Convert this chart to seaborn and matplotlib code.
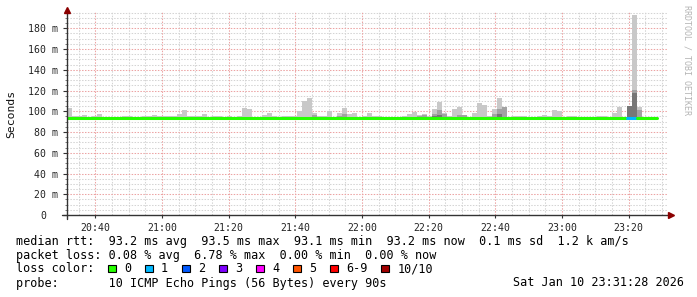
import numpy as np
import pandas as pd
import matplotlib
matplotlib.use("Agg")
import matplotlib.pyplot as plt
import matplotlib.transforms as mtransforms
from matplotlib.patches import Rectangle
import seaborn as sns

# ---------------- data ----------------
start_label = "20:31:28"
step_minutes = 1.5
# smoke: max ping (light), mid band, dense band (ms) per 90 s bin
smoke_max = [103.2, 95.0, 95.5, 96.4, 93.6, 95.5, 97.4, 93.6, 93.6, 93.6,
             93.6, 95.0, 95.0, 93.6, 93.6, 95.0, 95.0, 96.4, 95.0, 95.0,
             95.5, 95.0, 97.4, 101.3, 95.0, 95.8, 95.8, 97.2, 93.6, 95.0,
             95.5, 94.5, 95.0, 94.5, 95.5, 103.2, 102.2, 93.6, 93.6, 96.4,
             98.4, 95.0, 93.6, 95.0, 95.0, 95.5, 100.3, 109.9, 112.8, 98.4,
             95.0, 95.5, 100.3, 93.6, 98.4, 103.2, 97.4, 98.4, 93.6, 95.5,
             98.4, 95.5, 95.5, 93.6, 93.6, 93.6, 93.6, 95.5, 97.4, 99.3,
             96.4, 97.0, 95.5, 102.2, 109.0, 98.4, 95.5, 102.2, 104.1, 96.4,
             93.6, 98.4, 108.0, 106.1, 95.0, 102.2, 112.8, 104.1, 93.6, 95.0,
             95.0, 95.0, 93.6, 93.6, 95.5, 96.4, 95.5, 101.3, 100.3, 93.6,
             95.5, 95.5, 93.6, 93.6, 93.6, 93.6, 95.0, 95.0, 93.6, 98.4,
             104.1, 93.6, 105.1, 192.9, 104.1, 93.6, 93.6, 93.6]
smoke_mid = {49: 96.5, 54: 95.5, 55: 97.4, 70: 95.0, 71: 96.4, 73: 97.4,
             74: 101.3, 75: 97.4, 78: 96.4, 79: 96.4, 85: 97.4, 86: 102.2,
             87: 104.1, 89: 94.5, 112: 105.1, 113: 120.5, 114: 101.0}
smoke_dense = {73: 95.5, 74: 96.0, 86: 97.0, 112: 105.1, 113: 117.9}
smoke_min = 93.0
median_rtt = [93.2] * 118
loss_count = [0] * 118
loss_count[112] = 1
loss_count[113] = 1

xtick_labels = ["20:40", "21:00", "21:20", "21:40", "22:00", "22:20",
                "22:40", "23:00", "23:20"]
ytick_values = [0, 20, 40, 60, 80, 100, 120, 140, 160, 180]
ytick_labels = ["0", "20 m", "40 m", "60 m", "80 m", "100 m", "120 m",
                "140 m", "160 m", "180 m"]

loss_labels = ["0", "1", "2", "3", "4", "5", "6-9", "10/10"]
loss_colors = ["#26ff00", "#00b8ff", "#0059ff", "#7e00ff", "#ff00ff",
               "#ff5500", "#ff0000", "#a10000"]

legend_rows = [
    "median rtt:  93.2 ms avg  93.5 ms max  93.1 ms min  93.2 ms now  0.1 ms sd  1.2 k am/s",
    "packet loss: 0.08 % avg  6.78 % max  0.00 % min  0.00 % now",
    "loss color:",
    "probe:       10 ICMP Echo Pings (56 Bytes) every 90s",
]
date_text = "Sat Jan 10 23:31:28 2026"
watermark = "RRDTOOL / TOBI OETIKER"

# ---------------- setup ----------------
sns.set_theme(style="white")
plt.rcParams["font.family"] = ["DejaVu Sans Mono", "DejaVu Sans"]

W, H = 697, 297
fig = plt.figure(figsize=(W / 100, H / 100), dpi=100)
fig.patch.set_facecolor("white")
L, R, T, B = 67, 667, 12, 215
ax = fig.add_axes([L / W, 1 - B / H, (R - L) / W, (B - T) / H])
ax.set_facecolor("white")

h, m, s = [int(v) for v in start_label.split(":")]
t0 = (h - 20) * 60 + m + s / 60.0
n = len(smoke_max)
edges = t0 + step_minutes * np.arange(n + 1)
left = edges[:-1]

ax.set_xlim(t0, t0 + 180)
ax.set_ylim(0, 195.7)

# grid
minor_grid = dict(color="#d4d4d4", lw=0.75, ls=(0, (1.4, 1.4)), zorder=0)
major_grid = dict(color="#eca3a3", lw=0.75, ls=(0, (1.4, 1.4)), zorder=0.5)
xt = [int(l[:2]) * 60 + int(l[3:]) - 20 * 60 for l in xtick_labels]
for xv in np.arange(35, 212, 5):
    if xv % 20 != 0:
        ax.axvline(xv, **minor_grid)
for xv in xt:
    ax.axvline(xv, **major_grid)
for yv in np.arange(5, 196, 5):
    if yv % 20 != 0:
        ax.axhline(yv, **minor_grid)
for yv in ytick_values[1:]:
    ax.axhline(yv, **major_grid)

# smoke
smax = np.array(smoke_max)
ax.bar(left, smax - smoke_min, width=step_minutes, bottom=smoke_min,
       align="edge", color="#c8c8c8", linewidth=0, zorder=2)
mid = np.array([smoke_mid.get(i, smoke_min) for i in range(n)])
ax.bar(left, mid - smoke_min, width=step_minutes, bottom=smoke_min,
       align="edge", color="#a2a2a2", linewidth=0, zorder=2.1)
dense = np.array([smoke_dense.get(i, smoke_min) for i in range(n)])
ax.bar(left, dense - smoke_min, width=step_minutes, bottom=smoke_min,
       align="edge", color="#777777", linewidth=0, zorder=2.2)

# median line, coloured by loss
med = np.array(median_rtt)
loss = np.array(loss_count)
i = 0
while i < n:
    j = i
    while j + 1 < n and loss[j + 1] == loss[i]:
        j += 1
    xs = edges[i:j + 2]
    ys = np.append(med[i:j + 1], med[j])
    df = pd.DataFrame({"t": xs, "rtt": ys})
    sns.lineplot(data=df, x="t", y="rtt", drawstyle="steps-post",
                 color=loss_colors[loss[i]], linewidth=2.2, ax=ax,
                 estimator=None, sort=False, zorder=3)
    i = j + 1

# axes styling
for sp in ["top", "right", "left", "bottom"]:
    ax.spines[sp].set_visible(False)
ax.plot([-5 / (R - L), 1 + 2 / (R - L)], [0, 0], transform=ax.transAxes,
        color="#333333", lw=1.0, clip_on=False, zorder=5)
ax.plot([0, 0], [-4 / (B - T), 1.0], transform=ax.transAxes,
        color="#333333", lw=1.0, clip_on=False, zorder=5)
ax.plot([1 + 4 / (R - L)], [0], marker=">", markersize=4.2, color="#8b0000",
        transform=ax.transAxes, clip_on=False, zorder=6, mec="#8b0000")
ax.plot([0], [1 + 2 / (B - T)], marker="^", markersize=4.2, color="#8b0000",
        transform=ax.transAxes, clip_on=False, zorder=6, mec="#8b0000")

ax.set_xticks(xt)
ax.set_xticklabels(xtick_labels)
ax.set_yticks(ytick_values)
ax.set_yticklabels(ytick_labels)
ax.set_xticks(np.arange(35, 212, 5), minor=True)
ax.set_yticks(np.arange(5, 196, 5), minor=True)
ax.tick_params(axis="y", which="major", length=3, width=0.8, color="#333333",
               pad=3.2, labelsize=7.1, labelcolor="#222222", left=True)
ax.tick_params(axis="y", which="minor", length=1.5, width=0.6, color="#666666", left=True)
ax.tick_params(axis="x", which="major", length=2, width=0.8, color="#333333",
               pad=3.5, labelsize=7.1, labelcolor="#222222", bottom=True)
ax.tick_params(axis="x", which="minor", length=0)
ax.set_xlabel("")
ax.set_ylabel("")
for lab in ax.get_yticklabels():
    if lab.get_text() == "0":
        lab.set_transform(lab.get_transform() +
                          mtransforms.ScaledTranslation(-0.123, 0, fig.dpi_scale_trans))

# labels
fig.text(11 / W, 1 - 113.5 / H, "Seconds", rotation=90, ha="center", va="center",
         fontsize=8.2, color="#111111")
fig.text(687.5 / W, 1 - 60 / H, watermark, rotation=270, ha="center", va="center",
         fontsize=6.0, color="#b4b4b4")

# legend
row_y = [241, 255, 268.5, 283]
for txt, yy in zip(legend_rows, row_y):
    fig.text(16 / W, 1 - yy / H, txt, ha="left", va="center", fontsize=8.5,
             color="#000000")
fig.text(513 / W, 1 - 283 / H, date_text, ha="left", va="center", fontsize=8.5,
         color="#000000")
bx = 108.0
for lab, col in zip(loss_labels, loss_colors):
    fig.add_artist(Rectangle((bx / W, 1 - 272.3 / H), 7.5 / W, 7.5 / H,
                             transform=fig.transFigure, facecolor=col,
                             edgecolor="black", linewidth=0.8))
    fig.text((bx + 16) / W, 1 - 268.5 / H, lab, ha="left", va="center",
             fontsize=8.5, color="#000000")
    bx += 37 + (len(lab) - 1) * 7.1

fig.savefig("out.png", dpi=100, facecolor="white")
